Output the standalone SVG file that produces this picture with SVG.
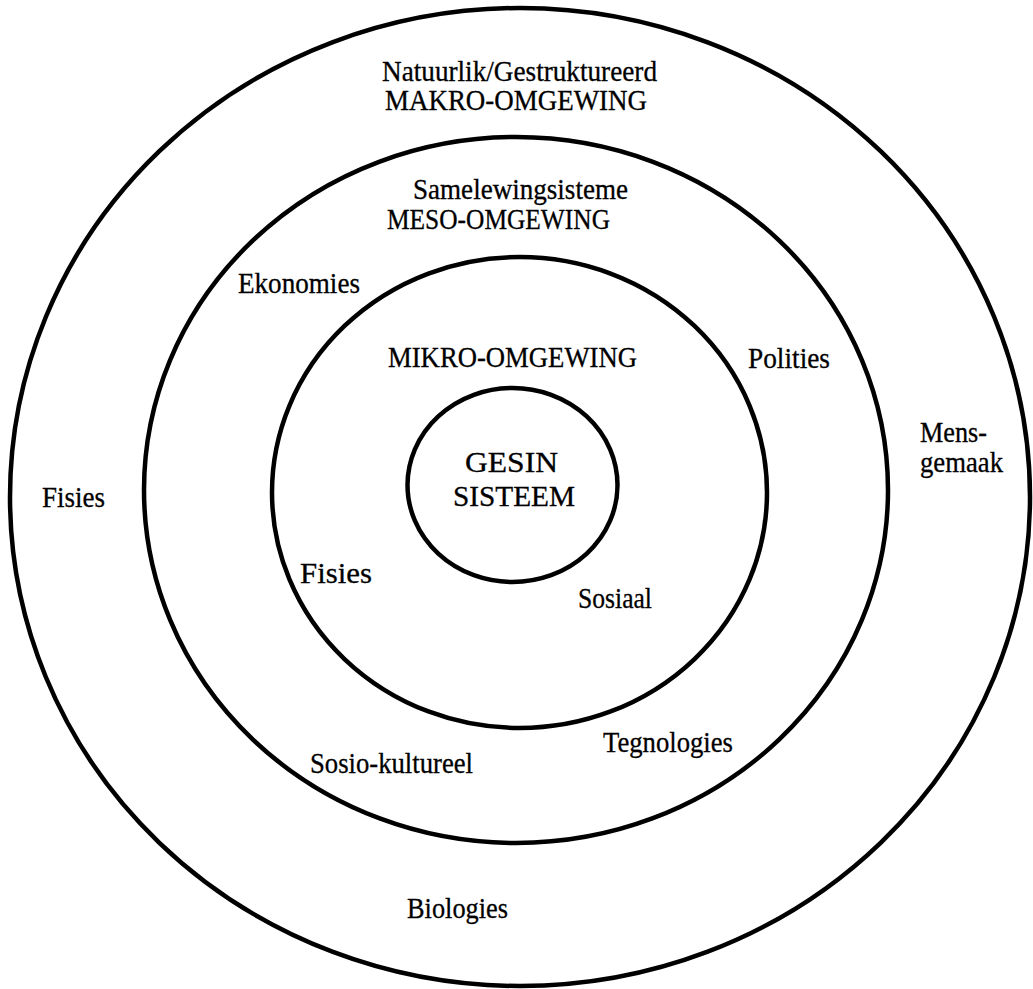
<svg xmlns="http://www.w3.org/2000/svg" width="1033" height="989" viewBox="0 0 1033 989">
<style>
.ring{fill:none;stroke:#000;stroke-width:4.5}
.t{font-family:"Liberation Serif","Times New Roman",serif;font-size:29px;fill:#000;stroke:#000;stroke-width:0.3}
.c{font-family:"Liberation Serif","Times New Roman",serif;font-size:29px;fill:#000;stroke:#000;stroke-width:0.3}
</style>
<rect width="1033" height="989" fill="#fff"/>
<g id="makro">
<ellipse class="ring" cx="520" cy="497" rx="510" ry="489"/>
<text class="t" x="382" y="81" textLength="275" lengthAdjust="spacingAndGlyphs">Natuurlik/Gestruktureerd</text>
<text class="t" x="385" y="110" textLength="262" lengthAdjust="spacingAndGlyphs">MAKRO-OMGEWING</text>
<text class="t" x="42" y="507" textLength="63" lengthAdjust="spacingAndGlyphs">Fisies</text>
<text class="t" x="920" y="442" textLength="67" lengthAdjust="spacingAndGlyphs">Mens-</text>
<text class="t" x="920" y="472" textLength="83" lengthAdjust="spacingAndGlyphs">gemaak</text>
<text class="t" x="407" y="918" textLength="101" lengthAdjust="spacingAndGlyphs">Biologies</text>
</g>
<g id="meso">
<ellipse class="ring" cx="516" cy="490" rx="372" ry="353"/>
<text class="t" x="413" y="199" textLength="215" lengthAdjust="spacingAndGlyphs">Samelewingsisteme</text>
<text class="t" x="387" y="229" textLength="223" lengthAdjust="spacingAndGlyphs">MESO-OMGEWING</text>
<text class="t" x="238" y="293" textLength="122" lengthAdjust="spacingAndGlyphs">Ekonomies</text>
<text class="t" x="748" y="368" textLength="82" lengthAdjust="spacingAndGlyphs">Polities</text>
<text class="t" x="310" y="773" textLength="163" lengthAdjust="spacingAndGlyphs">Sosio-kultureel</text>
<text class="t" x="603" y="752" textLength="130" lengthAdjust="spacingAndGlyphs">Tegnologies</text>
</g>
<g id="mikro">
<ellipse class="ring" cx="519.5" cy="492.5" rx="247.5" ry="235.5"/>
<text class="t" x="388" y="367" textLength="249" lengthAdjust="spacingAndGlyphs">MIKRO-OMGEWING</text>
<text class="t" x="300" y="583" textLength="72" lengthAdjust="spacingAndGlyphs">Fisies</text>
<text class="t" x="578" y="608" textLength="74" lengthAdjust="spacingAndGlyphs">Sosiaal</text>
</g>
<g id="gesin">
<ellipse class="ring" cx="512.5" cy="485" rx="105" ry="97"/>
<text class="c" x="465" y="472" textLength="93" lengthAdjust="spacingAndGlyphs">GESIN</text>
<text class="c" x="453" y="506" textLength="122" lengthAdjust="spacingAndGlyphs">SISTEEM</text>
</g>
<g id="connectors"/>
</svg>
